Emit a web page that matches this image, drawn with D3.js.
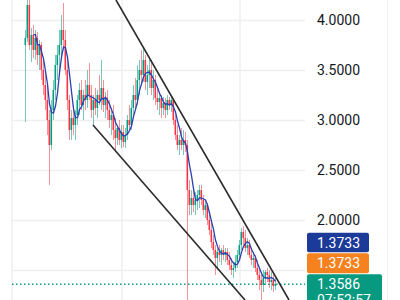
<!DOCTYPE html>
<html>
<head>
<meta charset="utf-8">
<script src="https://cdn.jsdelivr.net/npm/d3@7"></script>
<style>
  html, body { margin: 0; padding: 0; background: #ffffff; }
  svg { display: block; }
</style>
</head>
<body>
<svg id="chart_root" width="400" height="300"></svg>
<script>
// candles, oldest first (one value per bar)
var openPrices = [3.75,3.82,4.15,3.75,3.85,3.70,3.82,3.65,3.75,3.50,3.35,3.20,3.00,2.75,3.10,3.30,3.55,3.65,3.75,3.90,
    3.80,3.50,3.20,2.90,3.02,2.95,3.05,3.20,3.30,3.15,3.25,3.20,3.35,3.25,3.10,3.20,3.12,3.25,3.20,3.32,
    3.15,3.22,3.10,3.00,3.05,2.90,2.82,2.92,2.80,2.88,2.78,2.85,3.00,2.95,3.12,3.25,3.20,3.40,3.50,3.45,
    3.60,3.38,3.45,3.50,3.32,3.40,3.22,3.18,3.22,3.12,3.17,3.10,3.20,3.15,3.20,3.00,2.85,2.75,2.80,2.75,
    2.80,2.75,2.30,2.15,2.22,2.15,2.20,2.25,2.30,2.20,2.10,2.15,2.00,1.90,1.78,1.70,1.62,1.68,1.65,1.70,
    1.65,1.68,1.60,1.55,1.50,1.52,1.58,1.65,1.75,1.88,1.82,1.72,1.75,1.65,1.60,1.62,1.52,1.45,1.40,1.35,
    1.42,1.48,1.45,1.38,1.40,1.34];
var highPrices = [3.90,4.25,4.20,3.92,3.95,3.90,3.88,3.80,3.78,3.60,3.50,3.35,3.10,3.20,3.40,3.65,3.75,3.90,4.05,4.17,
    3.90,3.60,3.25,3.10,3.15,3.10,3.25,3.37,3.40,3.30,3.40,3.50,3.57,3.35,3.25,3.32,3.30,3.45,3.60,3.40,
    3.28,3.30,3.20,3.12,3.15,3.02,2.95,3.00,2.95,2.95,2.92,3.05,3.15,3.20,3.35,3.42,3.55,3.60,3.70,3.72,
    3.65,3.55,3.62,3.60,3.50,3.45,3.32,3.28,3.25,3.23,3.22,3.25,3.23,3.24,3.22,3.05,2.95,2.85,2.92,2.90,
    2.88,2.80,2.40,2.30,2.32,2.28,2.30,2.35,2.35,2.25,2.20,2.17,2.05,1.98,1.85,1.75,1.72,1.75,1.72,1.75,
    1.72,1.72,1.68,1.62,1.58,1.65,1.70,1.80,1.92,1.94,1.90,1.82,1.80,1.72,1.68,1.65,1.60,1.52,1.48,1.50,
    1.50,1.52,1.50,1.48,1.45,1.42];
var lowPrices = [2.98,3.78,3.70,3.58,3.62,3.60,3.55,3.50,3.40,3.25,3.10,2.85,2.35,2.70,3.00,3.20,3.40,3.50,3.60,3.70,
    3.45,3.10,2.80,2.80,2.85,2.80,2.95,3.05,3.10,3.00,3.10,3.12,3.20,3.02,2.95,3.05,3.02,3.15,3.10,3.08,
    3.02,3.00,2.92,2.85,2.80,2.70,2.75,2.75,2.72,2.73,2.72,2.80,2.90,2.90,3.05,3.10,3.15,3.25,3.35,3.38,
    3.30,3.25,3.32,3.25,3.20,3.15,3.10,3.05,3.02,3.05,3.02,3.05,3.10,3.08,2.95,2.80,2.70,2.65,2.70,2.65,
    2.68,1.10,2.05,2.05,2.08,2.05,2.10,2.12,2.15,2.05,2.02,1.95,1.85,1.72,1.65,1.45,1.50,1.58,1.55,1.60,
    1.58,1.55,1.50,1.45,1.42,1.48,1.52,1.60,1.70,1.75,1.68,1.65,1.62,1.55,1.52,1.48,1.40,1.30,1.20,1.28,
    1.35,1.38,1.32,1.30,1.28,1.30];
var closePrices = [3.82,4.15,3.75,3.85,3.70,3.82,3.65,3.75,3.50,3.35,3.20,3.00,2.75,3.10,3.30,3.55,3.65,3.75,3.90,3.80,
    3.50,3.20,2.90,3.02,2.95,3.05,3.20,3.30,3.15,3.25,3.20,3.35,3.25,3.10,3.20,3.12,3.25,3.20,3.32,3.15,
    3.22,3.10,3.00,3.05,2.90,2.82,2.92,2.80,2.88,2.78,2.85,3.00,2.95,3.12,3.25,3.20,3.40,3.50,3.45,3.60,
    3.38,3.45,3.50,3.32,3.40,3.22,3.18,3.22,3.12,3.17,3.10,3.20,3.15,3.20,3.00,2.85,2.75,2.80,2.75,2.80,
    2.75,2.30,2.15,2.22,2.15,2.20,2.25,2.30,2.20,2.10,2.15,2.00,1.90,1.78,1.70,1.62,1.68,1.65,1.70,1.65,
    1.68,1.60,1.55,1.50,1.52,1.58,1.65,1.75,1.88,1.82,1.72,1.75,1.65,1.60,1.62,1.52,1.45,1.40,1.35,1.42,
    1.48,1.45,1.38,1.40,1.34,1.3586];

// gridline levels and the labelled ones (1.5000 sits behind the price tags)
var gridPrices = [1.5, 2.0, 2.5, 3.0, 3.5, 4.0];
var labelPrices = [2.0, 2.5, 3.0, 3.5, 4.0];
// time gridlines, in bar units
var timeGridBars = [-6.5, 48.5, 107.5];
// hand drawn wedge: [bar, price] end points
var upperTrend = [[45.5, 4.2], [132, 1.2]];
var lowerTrend = [[34, 2.95], [110, 1.2]];
// price tags on the right scale: moving average, second average, last price
var tagValues = [1.3733, 1.3733, 1.3586];
var tagColours = ["#1c3a98", "#f5821f", "#089981"];
var countdownText = "07:52:57";

var maPeriod = 5;
var upColour = "#089981";
var downColour = "#f23645";

var plotLeft = 12, plotRight = 305;

var svg = d3.select('#chart_root');

var x = d3.scaleLinear().domain([0, closePrices.length - 1]).range([25, 275]);
var y = d3.scaleLinear().domain([1.2, 4.2]).range([300, 0]);

// clip for the plot pane
svg.append("defs").append("clipPath").attr("id", "pane_clip")
    .append("rect").attr("x", plotLeft).attr("y", 0)
    .attr("width", plotRight - plotLeft).attr("height", 300);

// faint separator at the far right
svg.append("line")
    .attr("x1", 387.5).attr("x2", 387.5).attr("y1", 0).attr("y2", 300)
    .attr("stroke", "#f0f0f0").attr("stroke-width", 1);

// horizontal gridlines
var grid = svg.append("g")
    .attr("class", "y-grid")
    .attr("transform", "translate(" + plotLeft + ",0)")
    .call(d3.axisRight(y).tickValues(gridPrices).tickSize(plotRight - plotLeft).tickFormat(""));
grid.select(".domain").remove();
grid.selectAll(".tick line").attr("stroke", "#efefef").attr("stroke-width", 1.5);

// vertical gridlines
svg.append("g")
    .selectAll("line")
    .data(timeGridBars)
    .enter().append("line")
    .attr("x1", function(d) { return x(d); })
    .attr("x2", function(d) { return x(d); })
    .attr("y1", 0).attr("y2", 300)
    .attr("stroke", "#efefef").attr("stroke-width", 1.5);

var pane = svg.append("g").attr("clip-path", "url(#pane_clip)");

// last price dotted line
var lastPrice = closePrices[closePrices.length - 1];
pane.append("line")
    .attr("x1", plotLeft).attr("x2", plotRight)
    .attr("y1", y(lastPrice)).attr("y2", y(lastPrice))
    .attr("stroke", upColour).attr("stroke-width", 1.5)
    .attr("stroke-dasharray", "1.5,2.5");

// build bar records
var bars = closePrices.map(function(c, i) {
    return { i: i, o: openPrices[i], h: highPrices[i], l: lowPrices[i], c: c };
});

// wicks
pane.append("g")
    .selectAll("line")
    .data(bars)
    .enter().append("line")
    .attr("x1", function(d) { return x(d.i) + 0.5; })
    .attr("x2", function(d) { return x(d.i) + 0.5; })
    .attr("y1", function(d) { return y(d.h); })
    .attr("y2", function(d) { return y(d.l); })
    .attr("stroke", function(d) { return d.c >= d.o ? upColour : downColour; })
    .attr("stroke-opacity", 0.55)
    .attr("stroke-width", 1);

// bodies
pane.append("g")
    .selectAll("rect")
    .data(bars)
    .enter().append("rect")
    .attr("x", function(d) { return x(d.i) - 0.5; })
    .attr("width", 1.6)
    .attr("y", function(d) { return y(Math.max(d.o, d.c)); })
    .attr("height", function(d) { return Math.max(1, Math.abs(y(d.o) - y(d.c))); })
    .attr("fill", function(d) { return d.c >= d.o ? upColour : downColour; });

// moving average of the closes
var maPoints = [];
for (var i = maPeriod - 1; i < closePrices.length; i++) {
    maPoints.push([i, d3.mean(closePrices.slice(i - maPeriod + 1, i + 1))]);
}
pane.append("path")
    .datum(maPoints)
    .attr("fill", "none")
    .attr("stroke", "#2a40b0")
    .attr("stroke-width", 1.3)
    .attr("d", d3.line()
        .x(function(d) { return x(d[0]) + 0.5; })
        .y(function(d) { return y(d[1]); }));

// wedge trendlines
[upperTrend, lowerTrend].forEach(function(seg) {
    pane.append("line")
        .attr("x1", x(seg[0][0])).attr("y1", y(seg[0][1]))
        .attr("x2", x(seg[1][0])).attr("y2", y(seg[1][1]))
        .attr("stroke", "#2b2b2b").attr("stroke-width", 1.6);
});

// price scale labels
var axis = svg.append("g")
    .attr("class", "y-axis")
    .attr("transform", "translate(317,0)")
    .call(d3.axisRight(y).tickValues(labelPrices).tickSize(0).tickPadding(0).tickFormat(d3.format(".4f")));
axis.select(".domain").remove();
axis.selectAll(".tick text")
    .attr("fill", "#131722")
    .style("font-family", "Roboto, sans-serif")
    .style("font-size", "14px");

// price tags, stacked upward from the last price
var fmt = d3.format(".4f");
var lastY = y(tagValues[2]);
var tagBoxes = [
    { top: lastY - 10, h: 30, w: 75 },
    { top: lastY - 31, h: 20, w: 62 },
    { top: lastY - 51.5, h: 19.5, w: 62 }
];
var tagOrder = [2, 1, 0];
tagOrder.forEach(function(k, j) {
    var b = tagBoxes[j];
    svg.append("rect")
        .attr("x", 307).attr("y", b.top)
        .attr("width", b.w).attr("height", b.h)
        .attr("rx", 2)
        .attr("fill", tagColours[k]);
    svg.append("text")
        .attr("x", 317).attr("y", b.top + 10)
        .attr("dy", "0.35em")
        .attr("fill", "#ffffff")
        .style("font-family", "Roboto, sans-serif")
        .style("font-size", "14px")
        .text(fmt(tagValues[k]));
});
// countdown line under the last price, partly below the frame
svg.append("text")
    .attr("x", 317).attr("y", lastY + 16)
    .attr("dy", "0.35em")
    .attr("fill", "#ffffff")
    .style("font-family", "Roboto, sans-serif")
    .style("font-size", "14px")
    .text(countdownText);
</script>
</body>
</html>
